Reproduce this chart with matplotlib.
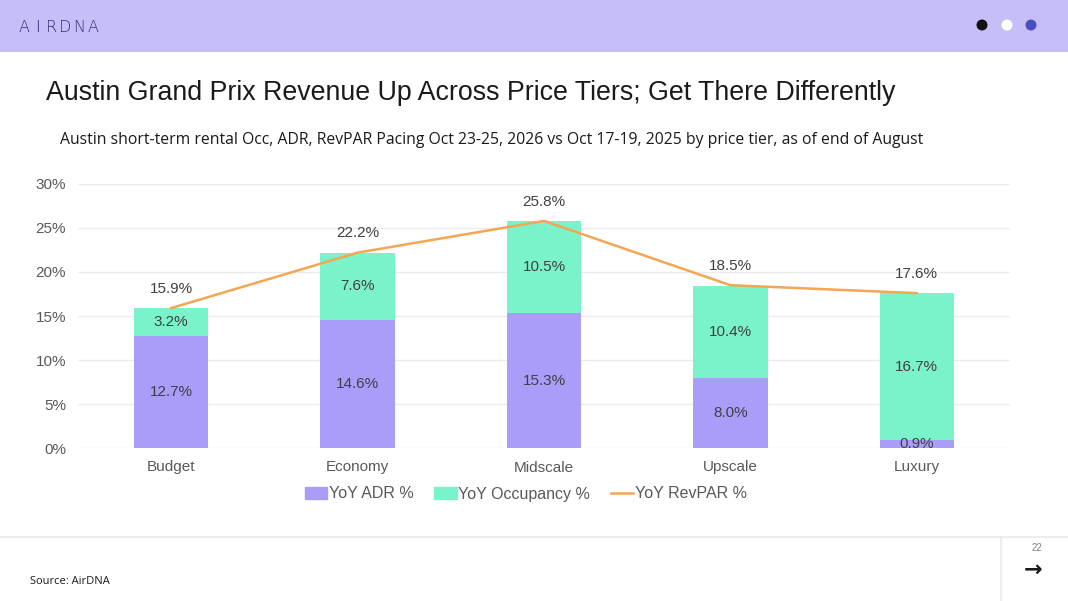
import numpy as np
import matplotlib
matplotlib.use("Agg")
import matplotlib.pyplot as plt
from matplotlib.patches import Rectangle, Ellipse
from matplotlib.lines import Line2D

# chart data
tiers = ["Budget", "Economy", "Midscale", "Upscale", "Luxury"]
adr = [12.7, 14.6, 15.3, 8.0, 0.9]
occ = [3.2, 7.6, 10.5, 10.4, 16.7]
revpar = [15.9, 22.2, 25.8, 18.5, 17.6]
yticks = [0, 5, 10, 15, 20, 25, 30]

PURPLE = "#A99DF9"
GREEN = "#7AF3CB"
ORANGE = "#F4A653"
W, H = 1068, 601

plt.rcParams["font.family"] = ["Liberation Sans", "DejaVu Sans"]
fig = plt.figure(figsize=(W / 100, H / 100), dpi=100)
fig.patch.set_facecolor("white")

# header band
fig.patches.append(Rectangle((0, 1 - 52 / H), 1, 52 / H, transform=fig.transFigure,
                             facecolor="#C6BEF7", edgecolor="none", zorder=0))
for k, ch in enumerate("AIRDNA"):
    fig.text((24 + k * 13.8) / W, 1 - 28 / H, ch, fontsize=11.5, color="#34327F",
             va="center", ha="center", fontfamily="DejaVu Sans", fontweight="light")
for cx, col in [(982, "#111111"), (1007, "white"), (1031, "#4A4DC2")]:
    fig.patches.append(Ellipse((cx / W, 1 - 25 / H), 11 / W, 11 / H, transform=fig.transFigure,
                               facecolor=col, edgecolor="none", zorder=2))

# titles
fig.text(46 / W, 1 - 93 / H, "Austin Grand Prix Revenue Up Across Price Tiers; Get There Differently",
         fontsize=19.3, color="#1a1a1a", va="center", ha="left")
fig.text(60 / W, 1 - 140 / H,
         "Austin short-term rental Occ, ADR, RevPAR Pacing Oct 23-25, 2026 vs Oct 17-19, 2025 by price tier, as of end of August",
         fontsize=11.3, color="#1a1a1a", va="center", ha="left",
         fontfamily=["Open Sans", "DejaVu Sans"])

# chart
ax = fig.add_axes([78 / W, (H - 448) / H, 932 / W, 264 / H])
x = np.arange(len(tiers))
bw = 0.4
ax.bar(x, adr, bw, color=PURPLE, label="YoY ADR %", zorder=2)
ax.bar(x, occ, bw, bottom=adr, color=GREEN, label="YoY Occupancy %", zorder=2)
ax.plot(x, revpar, color=ORANGE, lw=1.8, label="YoY RevPAR %", zorder=3)

for i in range(len(tiers)):
    ax.text(x[i], adr[i] / 2, f"{adr[i]:.1f}%", ha="center", va="center",
            fontsize=11, color="#404040", zorder=4)
    ax.text(x[i], adr[i] + occ[i] / 2, f"{occ[i]:.1f}%", ha="center", va="center",
            fontsize=11, color="#404040", zorder=4)
    ax.annotate(f"{revpar[i]:.1f}%", (x[i], revpar[i]), xytext=(0, 14),
                textcoords="offset points", ha="center", va="center",
                fontsize=11, color="#404040", zorder=4)

ax.set_xlim(-0.5, len(tiers) - 0.5)
ax.set_ylim(0, 30)
ax.set_yticks(yticks)
ax.set_yticklabels([f"{t}%" for t in yticks])
ax.set_xticks(x)
ax.set_xticklabels(tiers)
ax.tick_params(length=0, labelsize=11, colors="#595959", pad=9)
ax.tick_params(axis="y", pad=8.5)
ax.grid(axis="y", color="#EBEBEB", lw=1, zorder=0)
for s in ax.spines.values():
    s.set_visible(False)

handles = [Rectangle((0, 0), 1, 1, color=PURPLE), Rectangle((0, 0), 1, 1, color=GREEN),
           Line2D([0], [0], color=ORANGE, lw=1.8)]
fig.legend(handles, ["YoY ADR %", "YoY Occupancy %", "YoY RevPAR %"], loc="center",
           bbox_to_anchor=(526 / W, 1 - 494 / H), ncol=3, frameon=False, fontsize=11.5,
           handlelength=1.4, handleheight=0.7, handletextpad=0.1, columnspacing=1.3,
           labelcolor="#595959")

# footer
fig.lines.append(Line2D([0, 1], [1 - 537 / H] * 2, transform=fig.transFigure,
                        color="#EDEDED", lw=1.5))
fig.lines.append(Line2D([1001 / W] * 2, [0, 1 - 537 / H], transform=fig.transFigure,
                        color="#EDEDED", lw=1.5))
fig.text(30 / W, 1 - 582 / H, "Source: AirDNA", fontsize=8, color="#1a1a1a",
         va="center", ha="left", fontfamily=["Open Sans", "DejaVu Sans"])
fig.text(1037 / W, 1 - 548 / H, "22", fontsize=7, color="#808080", va="center", ha="center")
fig.text(1033 / W, 1 - 570 / H, "→", fontsize=16, color="#1a1a1a", va="center", ha="center",
         fontweight="bold", fontfamily="DejaVu Sans")

fig.savefig("out.png", dpi=100)
